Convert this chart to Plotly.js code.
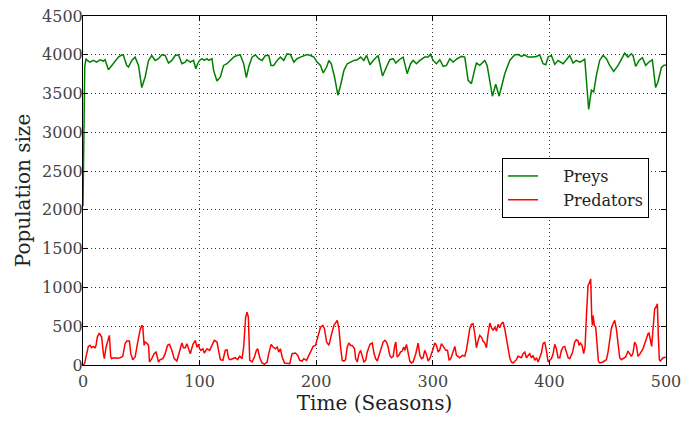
<!DOCTYPE html>
<html>
<head>
<meta charset="utf-8">
<script src="https://cdn.plot.ly/plotly-3.0.1.min.js"></script>
<style>html,body{margin:0;padding:0;background:#fff;}#chart{width:681px;height:424px;}</style>
</head>
<body>
<div id="chart"></div>
<script>
const preyT = [0,1.5,2.6,3.7,6.0,8.9,11.7,14.6,17.5,18.9,21.8,24.6,27.5,30.4,33.2,34.7,37.5,39.0,41.8,44.7,47.6,50.4,53.3,56.2,59.0,61.9,64.7,67.6,70.5,73.3,76.2,79.1,81.9,84.8,87.7,89.1,92.0,94.8,96.8,98.3,100.0,102.0,104.0,106.3,107.7,110.6,112.0,114.9,117.8,120.6,123.5,126.3,129.2,132.1,134.9,137.8,140.1,142.1,145.0,147.8,150.7,153.6,156.4,159.3,161.3,163.6,166.5,169.3,172.2,175.0,177.9,180.8,183.6,186.5,189.4,192.2,195.1,198.0,200.8,203.7,206.0,208.9,210.9,212.9,215.7,218.6,220.9,223.8,226.6,229.5,232.4,235.2,238.1,240.9,243.2,246.1,248.9,253.1,256.9,260.3,263.1,266.0,268.3,271.1,274.6,278.0,280.9,283.1,286.0,288.9,293.1,296.0,298.0,300.3,303.1,306.0,308.9,311.7,314.6,317.4,320.9,324.6,327.4,330.3,333.1,335.1,337.4,340.3,343.1,344.6,346.6,348.9,351.1,354.0,356.9,358.9,361.7,366.0,370.3,373.1,376.0,378.9,381.7,386.0,388.9,391.7,394.6,396.9,398.9,401.7,404.6,407.4,409.4,411.7,414.6,417.4,420.3,423.1,426.0,428.9,430.3,432.3,433.7,436.0,438.0,440.3,443.1,446.0,448.9,451.7,455.1,458.9,461.7,464.6,467.4,470.3,471.7,474.0,476.9,479.7,482.6,485.4,488.3,491.1,493.1,496.0,498.0,500];
const preyV = [2050,3850,3950,3927,3906,3927,3906,3936,3919,3936,3808,3863,3906,3970,4000,3991,3863,3842,3927,3970,3863,3577,3714,3927,3991,3927,3949,4000,3991,3893,3927,3991,4000,3885,3906,3936,3906,3927,3820,3885,3927,3949,3927,3949,3927,3949,3799,3662,3714,3863,3885,3927,3970,3991,4000,3885,3705,3842,3970,4000,3949,3927,3991,3991,3863,3863,3927,3970,3927,4013,4004,3906,3949,3970,3991,4004,3991,3970,3906,3863,3765,3842,3927,3885,3714,3479,3607,3799,3885,3906,3927,3936,3970,3927,3991,3872,3927,3991,3726,3842,3936,3949,3893,3936,3970,3756,3885,3927,3885,3927,3970,3970,4004,3927,3885,3936,3850,3863,3949,3906,3949,3979,3970,3671,3628,3756,3893,3863,3906,3927,3863,3650,3466,3620,3466,3585,3756,3927,4000,4004,3979,4000,3970,3970,3979,4000,3885,3872,3970,3991,3876,3927,3906,3885,3936,3991,3893,3927,3906,3927,3949,3585,3295,3543,3521,3735,3927,3991,3949,3863,3786,3863,3949,4021,3970,4013,3991,3850,3927,3962,3863,3906,3936,3577,3650,3833,3863,3870];

const predT = [0,1.4,3.2,4.6,6.0,7.4,8.9,10.3,11.2,12.3,14.0,16.0,17.5,18.3,19.8,21.8,22.6,23.8,24.6,26.1,28.9,31.8,34.1,36.1,37.5,39.8,41.0,42.7,44.7,46.7,49.0,50.4,51.3,52.4,53.3,54.7,56.2,57.0,59.0,61.0,62.7,64.7,66.2,68.5,70.5,72.5,74.2,76.2,78.2,80.5,82.8,84.8,86.2,87.7,89.1,90.5,92.0,94.3,96.3,97.7,99.1,100.0,101.1,102.9,104.0,106.3,108.6,110.6,112.6,114.9,116.3,117.8,120.0,122.0,123.5,124.9,126.3,128.6,130.6,132.6,134.4,136.4,137.8,139.5,140.7,141.8,143.0,145.0,147.0,148.7,149.8,151.6,153.6,155.6,157.9,159.3,161.3,163.0,165.0,166.5,167.9,169.3,170.8,172.8,175.0,177.3,179.3,182.2,184.2,185.9,187.9,189.4,191.7,193.7,195.1,197.4,199.4,201.4,203.7,205.7,207.1,208.9,210.9,212.9,215.2,218.0,219.5,220.9,222.3,223.8,225.2,226.6,228.1,229.5,230.9,232.9,233.8,235.2,236.7,238.1,239.5,240.9,242.4,243.8,246.1,248.1,249.5,251.0,252.4,253.8,255.3,256.0,257.4,258.9,260.3,261.7,263.1,264.6,266.0,267.4,268.3,269.4,270.9,272.3,273.7,275.1,276.0,277.4,278.9,280.3,281.7,283.1,285.4,287.4,288.9,290.3,291.7,293.1,294.6,296.0,297.4,298.9,300.3,301.7,303.1,304.6,306.0,307.4,309.4,311.1,312.6,314.0,315.4,316.9,318.9,320.3,321.7,323.1,325.4,327.4,328.9,330.3,331.7,333.1,334.6,336.0,337.4,338.9,340.3,341.7,343.1,344.6,346.0,347.4,348.9,350.3,351.7,353.1,354.6,356.0,357.4,358.9,360.3,361.7,363.1,364.6,366.0,367.4,368.9,371.7,373.1,374.6,376.0,377.4,378.9,380.3,381.7,383.1,384.6,386.0,387.4,388.9,390.3,391.7,393.1,394.6,396.0,397.4,398.9,400.3,401.7,403.1,404.6,406.0,407.4,408.9,410.3,411.7,413.1,414.6,416.0,417.4,419.7,421.7,423.1,424.6,425.4,426.6,428.0,429.4,430.6,431.7,433.1,434.6,435.4,436.3,436.9,437.4,438.6,439.7,440.9,442.0,443.1,446.0,448.9,450.3,451.7,453.1,454.6,456.0,457.4,458.9,460.3,461.7,463.1,465.4,467.4,468.9,470.3,471.7,473.1,474.6,476.0,477.4,478.9,480.3,481.7,483.1,484.6,485.4,486.6,487.7,488.9,490.3,491.7,492.6,493.4,494.3,495.1,496.3,497.4,500];
const predV = [0,20,146,240,253,223,240,223,253,360,412,360,146,82,232,360,382,103,82,94,86,94,112,275,309,309,146,69,103,275,455,511,489,253,296,283,253,39,82,146,167,39,69,82,146,253,266,189,82,51,189,283,223,223,275,210,146,266,317,232,266,210,189,210,154,210,189,253,317,296,167,69,60,189,197,82,69,82,94,69,112,82,232,618,682,618,60,39,103,189,210,94,26,9,39,146,266,232,210,232,167,210,103,26,17,17,146,154,124,60,51,82,60,124,167,240,253,360,489,511,468,296,253,382,511,575,468,232,60,51,69,232,283,253,253,210,82,39,146,189,103,39,60,167,266,283,154,82,51,124,210,253,296,317,296,232,124,94,112,253,296,103,124,167,180,232,189,266,146,51,26,39,146,283,124,82,94,189,137,51,82,137,210,283,253,167,197,275,223,189,189,60,82,146,240,124,112,94,124,112,197,339,468,523,532,403,223,317,382,360,309,283,223,403,541,480,446,489,438,523,480,532,553,468,360,253,94,39,26,69,112,103,94,146,167,94,124,146,94,124,60,94,39,94,154,275,296,189,39,60,82,137,266,210,94,94,189,232,240,167,94,82,154,296,326,309,253,283,253,146,232,618,1025,1068,1111,618,511,639,511,489,275,51,26,39,69,167,317,468,532,575,468,232,94,69,82,103,180,146,112,154,296,253,112,137,167,210,275,339,403,412,296,240,468,725,755,789,382,69,51,82,94,100];

const seriesNames = ['Preys', 'Predators'];
const xTicks = [0, 100, 200, 300, 400, 500];
const yTicks = [0, 500, 1000, 1500, 2000, 2500, 3000, 3500, 4000, 4500];

const serif = 'DejaVu Serif';
const pad = '\u00a0\u00a0\u00a0\u00a0';

const data = [
  {x: preyT, y: preyV, name: pad + seriesNames[0], mode: 'lines', line: {color: '#008000', width: 1.5}},
  {x: predT, y: predV, name: pad + seriesNames[1], mode: 'lines', line: {color: '#ff0000', width: 1.5}}
];

const axisCommon = {
  showline: true, linecolor: '#000', linewidth: 1, mirror: 'ticks',
  ticks: 'inside', ticklen: 5, tickcolor: '#000', tickwidth: 1,
  showgrid: true, gridcolor: '#333', gridwidth: 1, griddash: '1px,3px',
  zeroline: false, ticklabeloverflow: 'allow',
  tickfont: {family: serif, size: 16, color: '#444'}
};

const layout = {
  width: 681, height: 424,
  font: {family: serif},
  margin: {l: 83, r: 15, t: 16, b: 59},
  paper_bgcolor: '#fff', plot_bgcolor: '#fff',
  showlegend: true,
  xaxis: Object.assign({}, axisCommon, {
    range: [0, 500], tickvals: xTicks, ticktext: xTicks.map(String),
    ticklabelstandoff: 2,
    title: {text: 'Time (Seasons)', font: {family: serif, size: 20, color: '#222'}, standoff: 4}
  }),
  yaxis: Object.assign({}, axisCommon, {
    range: [0, 4500], tickvals: yTicks, ticktext: yTicks.map(String),
    ticklabelstandoff: -4,
    title: {text: 'Population size', font: {family: serif, size: 20, color: '#222'}, standoff: 6}
  }),
  legend: {
    x: 0.7187, y: 0.593, xanchor: 'left', yanchor: 'top',
    bgcolor: '#fff', bordercolor: '#000', borderwidth: 1,
    font: {family: serif, size: 16, color: '#222'},
    itemwidth: 30, tracegroupgap: 0
  }
};

Plotly.newPlot('chart', data, layout, {displayModeBar: false, staticPlot: true});
</script>
</body>
</html>
